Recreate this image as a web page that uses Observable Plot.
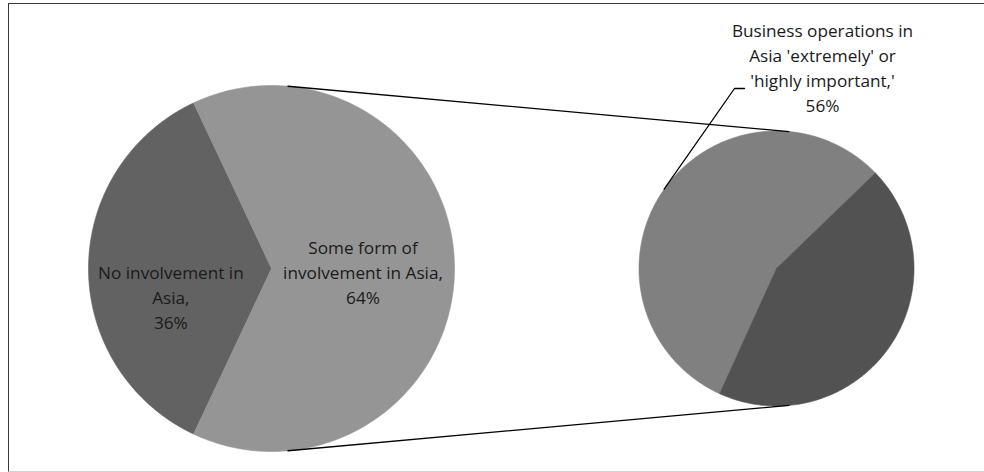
<!DOCTYPE html>
<html>
<head>
<meta charset="utf-8">
<script src="https://cdn.jsdelivr.net/npm/d3@7"></script>
<script src="https://cdn.jsdelivr.net/npm/@observablehq/plot@0.6"></script>
<style>
  body { margin: 0; background: #fff; }
  #wrap { position: relative; width: 984px; height: 472px; overflow: hidden; }
  #frame {
    position: absolute; left: 8px; top: 3px; width: 1000px; height: 469px;
    border-left: 1.5px solid #3a3a3a; border-top: 1.5px solid #3a3a3a;
    border-bottom: 1px solid #d4d4d4; box-sizing: border-box;
  }
  #chart { position: absolute; left: 0; top: 0; }
</style>
</head>
<body>
<div id="wrap"><div id="frame"></div><div id="chart"></div></div>
<script>
// Primary pie: overall involvement in Asia
const mainCategories = ["No involvement in Asia", "Some form of involvement in Asia"];
const mainValues = [36, 64];
const mainLabelLines = [["No involvement in", "Asia,"], ["Some form of", "involvement in Asia,"]];

// Secondary pie: how those with involvement rate their Asian operations
const subCategories = ["Business operations in Asia 'extremely' or 'highly important'", "Less important"];
const subValues = [56, 44];
const subLabelLines = [["Business operations in", "Asia 'extremely' or", "'highly important,'"], null];

// Layout (pixels) and styling
const W = 984, H = 472;
const mainPie = {cx: 271, cy: 268, r: 183, colors: ["#626262", "#959595"],
  labelRadius: [0.55, 0.5], labelDy: [27, 2]};
const subPie = {cx: 776, cy: 268, r: 137.5, start: 204.4, colors: ["#808080", "#525252"],
  labelX: 822, labelY: 66};
const FONT = "'Open Sans', Lato, sans-serif";
const FONT_SIZE = 17.2;
const INK = "#1a1a1a";

// angle in degrees, clockwise from 12 o'clock
const rad = (a) => a * Math.PI / 180;
const onCircle = (p, a, r = p.r) => ({x: p.cx + r * Math.sin(rad(a)), y: p.cy - r * Math.cos(rad(a))});

function slices(values, start) {
  const total = d3.sum(values);
  let a = start;
  return values.map((v) => {
    const a0 = a, a1 = a + v / total * 360;
    a = a1;
    return {a0, a1, mid: (a0 + a1) / 2, value: v};
  });
}
function wedge(p, s) {
  const pts = [{x: p.cx, y: p.cy}];
  const n = Math.max(2, Math.ceil(s.a1 - s.a0));
  for (let i = 0; i <= n; i++) pts.push(onCircle(p, s.a0 + (s.a1 - s.a0) * i / n));
  pts.push({x: p.cx, y: p.cy});
  return pts;
}

// The expanded slice of the main pie faces the secondary pie (centred at 3 o'clock)
const mainStart = 90 + mainValues[1] / d3.sum(mainValues) * 180;
const mainSlices = slices(mainValues, mainStart);
const subSlices = slices(subValues, subPie.start);

// Connector lines: outer tangents between the two circles
const theta = Math.asin((mainPie.r - subPie.r) / (subPie.cx - mainPie.cx)) * 180 / Math.PI;
const connectors = [
  [onCircle(mainPie, theta), onCircle(subPie, theta)],
  [onCircle(mainPie, 180 - theta), onCircle(subPie, 180 - theta)]
];

// Label data
const mainLabels = mainSlices.map((s, i) => {
  const p = onCircle(mainPie, s.mid, mainPie.r * mainPie.labelRadius[i]);
  return {x: p.x, y: p.y + mainPie.labelDy[i], text: [...mainLabelLines[i], `${mainValues[i]}%`].join("\n"), cat: mainCategories[i]};
});
const subLabels = subSlices
  .map((s, i) => ({s, i}))
  .filter(({i}) => subLabelLines[i])
  .map(({i}) => ({x: subPie.labelX, y: subPie.labelY, text: [...subLabelLines[i], `${subValues[i]}%`].join("\n"), cat: subCategories[i]}));

// Leader line from the middle of the labelled slice's arc to the label
const leaderStart = onCircle(subPie, subSlices[0].mid);
const leader = [leaderStart, {x: subPie.labelX - 88, y: subPie.labelY + 22}, {x: subPie.labelX - 78, y: subPie.labelY + 22}];

const marks = [];
mainSlices.forEach((s, i) => marks.push(Plot.line(wedge(mainPie, s), {x: "x", y: "y", fill: mainPie.colors[i], stroke: mainPie.colors[i], strokeWidth: 0.6})));
subSlices.forEach((s, i) => marks.push(Plot.line(wedge(subPie, s), {x: "x", y: "y", fill: subPie.colors[i], stroke: subPie.colors[i], strokeWidth: 0.6})));
connectors.forEach((c) => marks.push(Plot.line(c, {x: "x", y: "y", stroke: "#000", strokeWidth: 1.3})));
marks.push(Plot.line(leader, {x: "x", y: "y", stroke: "#000", strokeWidth: 1.3}));
marks.push(Plot.text(mainLabels, {x: "x", y: "y", text: "text", fill: INK, fontSize: FONT_SIZE, lineHeight: 25 / FONT_SIZE, lineAnchor: "middle", textAnchor: "middle"}));
marks.push(Plot.text(subLabels, {x: "x", y: "y", text: "text", fill: INK, fontSize: FONT_SIZE, lineHeight: 25 / FONT_SIZE, lineAnchor: "middle", textAnchor: "middle"}));

const chart = Plot.plot({
  width: W, height: H,
  margin: 0,
  x: {domain: [0, W], range: [0, W], axis: null},
  y: {domain: [0, H], range: [0, H], axis: null},
  style: {fontFamily: FONT, background: "transparent"},
  marks
});
document.getElementById("chart").append(chart);
</script>
</body>
</html>
